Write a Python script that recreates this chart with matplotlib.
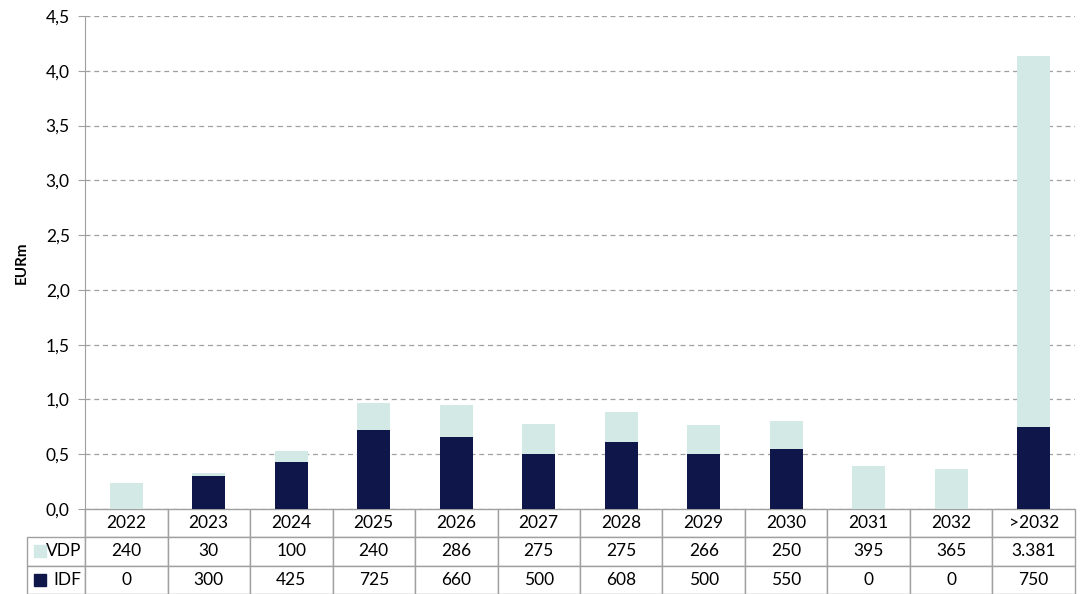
import matplotlib.pyplot as plt
from matplotlib.patches import Rectangle
from matplotlib.ticker import FuncFormatter, MultipleLocator

plt.rcParams['font.family'] = ['Lato', 'DejaVu Sans']

years = ['2022', '2023', '2024', '2025', '2026', '2027', '2028', '2029', '2030', '2031', '2032', '>2032']
vdp = [240, 30, 100, 240, 286, 275, 275, 266, 250, 395, 365, 3381]
idf = [0, 300, 425, 725, 660, 500, 608, 500, 550, 0, 0, 750]

navy = '#0F174A'
mint = '#D3E9E5'
edge = '#A0A0A0'

def fmt_num(v):
    return f'{v:,}'.replace(',', '.')

fig = plt.figure(figsize=(10.83, 5.94), dpi=100)
ax = fig.add_axes([0.0785, 0.1431, 0.9141, 0.8300])

x = range(len(years))
idf_m = [v / 1000 for v in idf]
vdp_m = [v / 1000 for v in vdp]
ax.bar(x, idf_m, width=0.4, color=navy, zorder=3)
ax.bar(x, vdp_m, width=0.4, bottom=idf_m, color=mint, zorder=3)

ax.set_xlim(-0.5, len(years) - 0.5)
ax.set_ylim(0, 4.5)
ax.yaxis.set_major_locator(MultipleLocator(0.5))
ax.yaxis.set_major_formatter(FuncFormatter(lambda v, p: f'{v:.1f}'.replace('.', ',')))
ax.grid(axis='y', linestyle=(0, (4, 3)), color='#A0A0A0', linewidth=0.9, zorder=0)
ax.set_xticks([])
ax.tick_params(axis='y', length=5, color=edge, labelsize=12.5, pad=6)
for s in ['top', 'right', 'bottom']:
    ax.spines[s].set_visible(False)
ax.spines['left'].set_color(edge)
ax.set_ylabel('EURm', fontsize=11, fontweight='bold', labelpad=12)

# data table under the bars
lab_w = 0.0586
cells = [[''] + years,
         ['VDP'] + [fmt_num(v) for v in vdp],
         ['IDF'] + [fmt_num(v) for v in idf]]
tab = ax.table(cellText=cells, cellLoc='center',
               colWidths=[lab_w] + [1 / len(years)] * len(years),
               bbox=[-lab_w, -0.1724, 1 + lab_w, 0.1724])
tab.auto_set_font_size(False)
tab.set_fontsize(12.5)
for (r, c), cell in tab.get_celld().items():
    cell.set_edgecolor(edge)
    cell.set_linewidth(1.0)
    if c == 0:
        cell.get_text().set_ha('right')
        cell._loc = 'right'
        cell.PAD = 0.06
    if r == 0 and c == 0:
        cell.visible_edges = 'R'

# legend squares in the row label cells
row_h = 0.1724 / 3
sq_w, sq_h = 12 / 990, 12 / 493
for i, col in enumerate([mint, navy]):
    yc = -0.1724 + row_h * (1.5 - i)
    ax.add_patch(Rectangle((-0.0515, yc - sq_h / 2), sq_w, sq_h, color=col,
                           transform=ax.transAxes, clip_on=False, zorder=5))

fig.savefig('out.png', dpi=100)
